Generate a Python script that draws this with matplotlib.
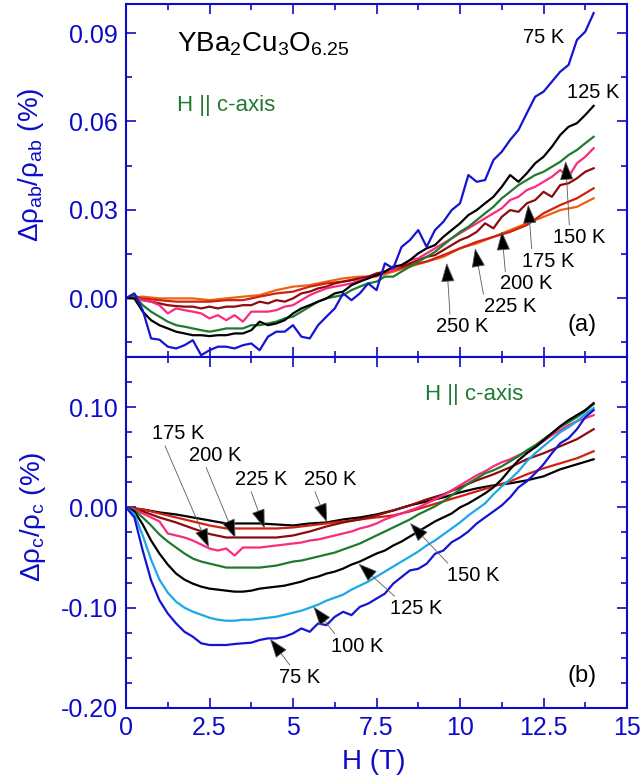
"""
Magnetoresistance of YBa2Cu3O6.25, H || c-axis.
(a) in-plane  d(rho_ab)/rho_ab,  (b) out-of-plane  d(rho_c)/rho_c
Writes out.png
"""
import numpy as np
import matplotlib
matplotlib.use('Agg')
import matplotlib.pyplot as plt
from matplotlib.ticker import MultipleLocator, FormatStrFormatter

plt.rcParams['font.family'] = ['Liberation Sans', 'DejaVu Sans']
plt.rcParams['mathtext.fontset'] = 'custom'
plt.rcParams['mathtext.rm'] = 'Liberation Sans'
plt.rcParams['mathtext.it'] = 'Liberation Sans:italic'
plt.rcParams['mathtext.default'] = 'rm'
plt.rcParams['axes.unicode_minus'] = False

# field grids the curves were read on (T)
H_FINE = np.arange(0, 14.01, 0.25)
H_COARSE = np.arange(0, 14.01, 0.5)

# ---- panel (a): drho_ab / rho_ab (%) ----
AB_75K = [0.0, 0.0016, -0.0041, -0.0137, -0.0141, -0.0165, -0.0171, -0.0160, -0.0143, -0.0194,
          -0.0177, -0.0165, -0.0165, -0.0171, -0.0160, -0.0154, -0.0177, -0.0131, -0.0114, -0.0114,
          -0.0092, -0.0131, -0.0137, -0.0092, -0.0063, -0.0035, 0.0016, -0.0007, 0.0016, 0.0050,
          0.0027, 0.0118, 0.0101, 0.0174, 0.0197, 0.0231, 0.0174, 0.0231, 0.0259, 0.0299,
          0.0322, 0.0418, 0.0395, 0.0401, 0.0469, 0.0497, 0.0537, 0.0571, 0.0628, 0.0684,
          0.0701, 0.0735, 0.0769, 0.0792, 0.0877, 0.0905, 0.0968]
AB_125K = [0.0, -0.0001, -0.0046, -0.0075, -0.0092, -0.0103, -0.0114, -0.0120, -0.0126, -0.0126,
           -0.0129, -0.0126, -0.0126, -0.0120, -0.0120, -0.0109, -0.0080, -0.0092, -0.0086, -0.0075,
           -0.0052, -0.0035, -0.0024, -0.0012, -0.0001, 0.0016, 0.0022, 0.0044, 0.0056, 0.0067,
           0.0078, 0.0090, 0.0107, 0.0112, 0.0129, 0.0152, 0.0169, 0.0180, 0.0208, 0.0231,
           0.0254, 0.0282, 0.0299, 0.0322, 0.0344, 0.0378, 0.0418, 0.0395, 0.0424, 0.0458,
           0.0480, 0.0514, 0.0554, 0.0582, 0.0594, 0.0622, 0.0653]
AB_150K = [0.0, 0.0010, -0.0024, -0.0046, -0.0063, -0.0080, -0.0092, -0.0097, -0.0103, -0.0109,
           -0.0114, -0.0109, -0.0103, -0.0103, -0.0103, -0.0092, -0.0092, -0.0086, -0.0080, -0.0069,
           -0.0063, -0.0046, -0.0029, -0.0012, -0.0001, 0.0005, 0.0010, 0.0027, 0.0039, 0.0050,
           0.0056, 0.0073, 0.0073, 0.0090, 0.0107, 0.0124, 0.0140, 0.0157, 0.0180, 0.0203,
           0.0225, 0.0242, 0.0265, 0.0288, 0.0310, 0.0339, 0.0361, 0.0384, 0.0401, 0.0418,
           0.0429, 0.0446, 0.0463, 0.0486, 0.0503, 0.0526, 0.0548]
AB_175K = [0.0, 0.0005, -0.0007, -0.0012, -0.0024, -0.0052, -0.0035, -0.0041, -0.0046, -0.0052,
           -0.0069, -0.0058, -0.0075, -0.0058, -0.0080, -0.0046, -0.0046, -0.0046, -0.0041, -0.0029,
           -0.0024, -0.0007, 0.0010, 0.0022, 0.0033, 0.0039, 0.0044, 0.0050, 0.0061, 0.0067,
           0.0078, 0.0090, 0.0095, 0.0112, 0.0129, 0.0135, 0.0152, 0.0169, 0.0186, 0.0203,
           0.0220, 0.0237, 0.0254, 0.0271, 0.0288, 0.0305, 0.0333, 0.0344, 0.0367, 0.0378,
           0.0395, 0.0412, 0.0435, 0.0412, 0.0458, 0.0480, 0.0509]
AB_200K = [0.0, 0.0010, -0.0007, -0.0012, -0.0018, -0.0024, -0.0027, -0.0029, -0.0029, -0.0035,
           -0.0029, -0.0035, -0.0029, -0.0029, -0.0024, -0.0024, -0.0012, -0.0018, -0.0007, -0.0012,
           -0.0001, 0.0016, 0.0022, 0.0033, 0.0039, 0.0050, 0.0056, 0.0061, 0.0067, 0.0073,
           0.0084, 0.0090, 0.0101, 0.0107, 0.0118, 0.0129, 0.0140, 0.0146, 0.0163, 0.0180,
           0.0197, 0.0208, 0.0225, 0.0254, 0.0237, 0.0276, 0.0299, 0.0293, 0.0322, 0.0333,
           0.0361, 0.0344, 0.0384, 0.0390, 0.0407, 0.0429, 0.0441]
AB_225K = [0.0, -0.0001, -0.0007, -0.0012, -0.0012, -0.0012, -0.0007, -0.0007, 0.0005, 0.0016,
           0.0022, 0.0039, 0.0050, 0.0056, 0.0067, 0.0078, 0.0095, 0.0112, 0.0124, 0.0146,
           0.0169, 0.0191, 0.0208, 0.0225, 0.0248, 0.0288, 0.0316, 0.0339, 0.0373]
AB_250K = [0.0, 0.0005, -0.0001, -0.0001, -0.0001, -0.0007, -0.0001, 0.0005, 0.0010, 0.0027,
           0.0039, 0.0044, 0.0056, 0.0067, 0.0073, 0.0073, 0.0090, 0.0107, 0.0124, 0.0140,
           0.0169, 0.0186, 0.0208, 0.0231, 0.0254, 0.0276, 0.0299, 0.0310, 0.0339]

# ---- panel (b): drho_c / rho_c (%) ----
C_75K = [0.0, -0.0099, -0.0430, -0.0727, -0.0926, -0.1058, -0.1157, -0.1240, -0.1289, -0.1355,
         -0.1372, -0.1372, -0.1372, -0.1362, -0.1355, -0.1349, -0.1322, -0.1306, -0.1306, -0.1289,
         -0.1256, -0.1207, -0.1240, -0.1157, -0.1174, -0.1091, -0.1041, -0.1074, -0.0992, -0.0959,
         -0.0909, -0.0860, -0.0760, -0.0694, -0.0628, -0.0612, -0.0562, -0.0463, -0.0430, -0.0347,
         -0.030, -0.024, -0.016, -0.010, -0.004, 0.002, 0.010, 0.020, 0.026, 0.034,
         0.043, 0.054, 0.064, 0.069, 0.078, 0.090, 0.097]
C_100K = [0.0, -0.0066, -0.028, -0.052, -0.072, -0.085, -0.094, -0.100, -0.104, -0.107,
          -0.110, -0.112, -0.113, -0.113, -0.112, -0.112, -0.111, -0.110, -0.109, -0.107,
          -0.105, -0.103, -0.100, -0.097, -0.093, -0.090, -0.087, -0.082, -0.078, -0.074,
          -0.069, -0.064, -0.059, -0.054, -0.049, -0.044, -0.038, -0.033, -0.027, -0.021,
          -0.015, -0.008, -0.002, 0.004, 0.013, 0.021, 0.028, 0.036, 0.046, 0.054,
          0.061, 0.068, 0.075, 0.080, 0.086, 0.093, 0.099]
C_125K = [0.0, -0.004, -0.017, -0.033, -0.046, -0.057, -0.066, -0.072, -0.076, -0.079,
          -0.081, -0.082, -0.083, -0.084, -0.084, -0.083, -0.081, -0.080, -0.079, -0.078,
          -0.076, -0.074, -0.071, -0.069, -0.066, -0.064, -0.061, -0.057, -0.054, -0.050,
          -0.046, -0.043, -0.038, -0.034, -0.029, -0.024, -0.019, -0.014, -0.010, -0.006,
          0.000, 0.004, 0.009, 0.014, 0.020, 0.028, 0.038, 0.047, 0.054, 0.060,
          0.067, 0.074, 0.081, 0.087, 0.092, 0.097, 0.104]
C_150K = [0.0, -0.003, -0.010, -0.018, -0.027, -0.034, -0.040, -0.046, -0.051, -0.054,
          -0.056, -0.058, -0.060, -0.060, -0.060, -0.060, -0.060, -0.059, -0.058, -0.056,
          -0.054, -0.053, -0.051, -0.049, -0.047, -0.045, -0.042, -0.039, -0.036, -0.032,
          -0.028, -0.024, -0.020, -0.016, -0.012, -0.007, -0.003, 0.001, 0.006, 0.012,
          0.018, 0.024, 0.029, 0.034, 0.037, 0.041, 0.046, 0.051, 0.057, 0.062,
          0.068, 0.074, 0.080, 0.085, 0.090, 0.096, 0.103]
C_175K = [0.0, -0.002, -0.006, -0.010, -0.014, -0.026, -0.028, -0.030, -0.033, -0.037,
          -0.041, -0.043, -0.041, -0.048, -0.040, -0.040, -0.040, -0.039, -0.038, -0.037,
          -0.036, -0.035, -0.033, -0.032, -0.030, -0.028, -0.026, -0.024, -0.021, -0.019,
          -0.016, -0.012, -0.009, -0.006, -0.003, 0.000, 0.004, 0.008, 0.012, 0.017,
          0.022, 0.027, 0.032, 0.036, 0.041, 0.045, 0.048, 0.052, 0.056, 0.060,
          0.066, 0.072, 0.077, 0.082, 0.086, 0.089, 0.092]
C_200K = [0.0, -0.004, -0.010, -0.015, -0.021, -0.0265, -0.030, -0.030, -0.030, -0.030,
          -0.028, -0.024, -0.019, -0.015, -0.012, -0.008, -0.003, 0.002, 0.008, 0.013,
          0.020, 0.027, 0.033, 0.040, 0.048, 0.054, 0.061, 0.068, 0.078]
C_225K = [0.0, -0.002, -0.006, -0.010, -0.014, -0.018, -0.021, -0.021, -0.021, -0.021,
          -0.020, -0.018, -0.016, -0.014, -0.012, -0.010, -0.008, -0.004, 0.001, 0.006,
          0.011, 0.016, 0.021, 0.026, 0.033, 0.039, 0.044, 0.049, 0.056]
C_250K = [0.0, -0.002, -0.005, -0.007, -0.010, -0.013, -0.016, -0.016, -0.016, -0.017,
          -0.018, -0.016, -0.015, -0.012, -0.010, -0.007, -0.003, 0.002, 0.006, 0.010,
          0.015, 0.019, 0.022, 0.024, 0.027, 0.031, 0.038, 0.043, 0.048]

AXIS_BLUE = '#0c0cc8'
C75 = '#1414d2'
C100 = '#1ca8e8'
C150 = '#1f7a30'
C175 = '#fb2a7c'
C200 = '#8c0c0c'
C225 = '#d02010'
C250 = '#f0600f'
ARROW_LINE = '0.35'

LW = 1.6
FS_TICK = 18
FS_TEMP = 14.5

# (curve, field grid, colour) in drawing order
PANEL_A = [(AB_250K, H_COARSE, C250), (AB_225K, H_COARSE, C225), (AB_200K, H_FINE, C200),
           (AB_175K, H_FINE, C175), (AB_150K, H_FINE, C150), (AB_125K, H_FINE, 'k'),
           (AB_75K, H_FINE, C75)]
PANEL_B = [(C_250K, H_COARSE, 'k'), (C_225K, H_COARSE, C225), (C_200K, H_COARSE, C200),
           (C_175K, H_FINE, C175), (C_150K, H_FINE, C150), (C_125K, H_FINE, 'k'),
           (C_100K, H_FINE, C100), (C_75K, H_FINE, C75)]

# label, arrow tip, text centre, where the arrow leaves the text box
ARROWS_A = [('150 K', (13.16, 0.0466), (13.56, 0.0206), (0.32, 1.0)),
            ('175 K', (12.04, 0.0318), (12.64, 0.0126), (0.19, 1.0)),
            ('200 K', (11.25, 0.0227), (11.99, 0.0048), (0.10, 1.0)),
            ('225 K', (10.45, 0.0170), (11.50, -0.0029), (0.0, 1.0)),
            ('250 K', (9.60, 0.0120), (10.05, -0.0097), (0.28, 1.0))]
ARROWS_B = [('175 K', (2.48, -0.040), (1.57, 0.0737), (0.22, 0.0)),
            ('200 K', (3.28, -0.031), (2.66, 0.0522), (0.31, 0.0)),
            ('225 K', (4.15, -0.021), (4.06, 0.0281), (0.28, 0.0)),
            ('250 K', (6.02, -0.015), (6.11, 0.0281), (0.19, 0.0)),
            ('150 K', (8.50, -0.0155), (10.40, -0.0678), (0.06, 1.0)),
            ('125 K', (6.96, -0.056), (8.68, -0.1008), (0.15, 1.0)),
            ('100 K', (5.61, -0.099), (6.91, -0.1382), (0.12, 1.0)),
            ('75 K', (4.31, -0.131), (5.21, -0.1693), (0.30, 1.0))]


def style_axes(ax, ylim, ymajor, yminor):
    ax.set_xlim(0, 15)
    ax.set_ylim(*ylim)
    ax.xaxis.set_major_locator(MultipleLocator(2.5))
    ax.xaxis.set_minor_locator(MultipleLocator(1.25))
    ax.xaxis.set_major_formatter(FormatStrFormatter('%g'))
    ax.yaxis.set_major_locator(MultipleLocator(ymajor))
    ax.yaxis.set_minor_locator(MultipleLocator(yminor))
    ax.yaxis.set_major_formatter(FormatStrFormatter('%.2f'))
    ax.tick_params(which='both', direction='in', top=True, right=True,
                   color=AXIS_BLUE, labelcolor=AXIS_BLUE, labelsize=FS_TICK, width=1.2)
    ax.tick_params(which='major', length=7, pad=6)
    ax.tick_params(which='minor', length=4.5)
    for sp in ax.spines.values():
        sp.set_color(AXIS_BLUE)
        sp.set_linewidth(1.5)


def add_arrows(ax, arrows):
    for label, tip, txt, rel in arrows:
        ax.annotate(label, xy=tip, xytext=txt, fontsize=FS_TEMP, ha='center', va='center',
                    arrowprops=dict(arrowstyle='-|>,head_length=0.85,head_width=0.3',
                                    fc='k', ec=ARROW_LINE, lw=0.6,
                                    shrinkA=0, shrinkB=0, relpos=rel))


fig = plt.figure(figsize=(6.41, 7.81), dpi=100)
ax_a = fig.add_axes([0.1966, 0.5429, 0.7816, 0.4524])
ax_b = fig.add_axes([0.1966, 0.0935, 0.7816, 0.4494])

# panel (a)
for y, h, c in PANEL_A:
    ax_a.plot(h, y, color=c, lw=LW)
style_axes(ax_a, (-0.02, 0.10), 0.03, 0.015)
ax_a.tick_params(labelbottom=False)
ax_a.set_ylabel('Δρ$_{ab}$/ρ$_{ab}$ (%)', fontsize=20, color=AXIS_BLUE, ha='center', va='center')
ax_a.yaxis.set_label_coords(-0.19, 0.543)

ax_a.text(1.53, 0.0836, 'YBa$_2$Cu$_3$O$_{6.25}$', fontsize=20, va='baseline')
ax_a.text(1.53, 0.0653, 'H || c-axis', fontsize=16, color=C150, va='center')
ax_a.text(12.49, 0.0886, '75 K', fontsize=FS_TEMP, ha='center', va='center')
ax_a.text(13.99, 0.0699, '125 K', fontsize=FS_TEMP, ha='center', va='center')
ax_a.text(13.65, -0.0092, '(a)', fontsize=17, ha='center', va='center')
add_arrows(ax_a, ARROWS_A)

# panel (b)
for y, h, c in PANEL_B:
    ax_b.plot(h, y, color=c, lw=LW)
style_axes(ax_b, (-0.20, 0.15), 0.10, 0.025)
ax_b.set_ylabel('Δρ$_c$/ρ$_c$ (%)', fontsize=20, color=AXIS_BLUE, ha='center', va='center')
ax_b.yaxis.set_label_coords(-0.186, 0.544)
ax_b.set_xlabel('H (T)', fontsize=20, color=AXIS_BLUE, va='center')
ax_b.xaxis.set_label_coords(0.495, -0.154)

ax_b.text(8.95, 0.113, 'H || c-axis', fontsize=16, color=C150, va='center')
ax_b.text(13.64, -0.168, '(b)', fontsize=17, ha='center', va='center')
add_arrows(ax_b, ARROWS_B)

plt.savefig('out.png', dpi=100)
